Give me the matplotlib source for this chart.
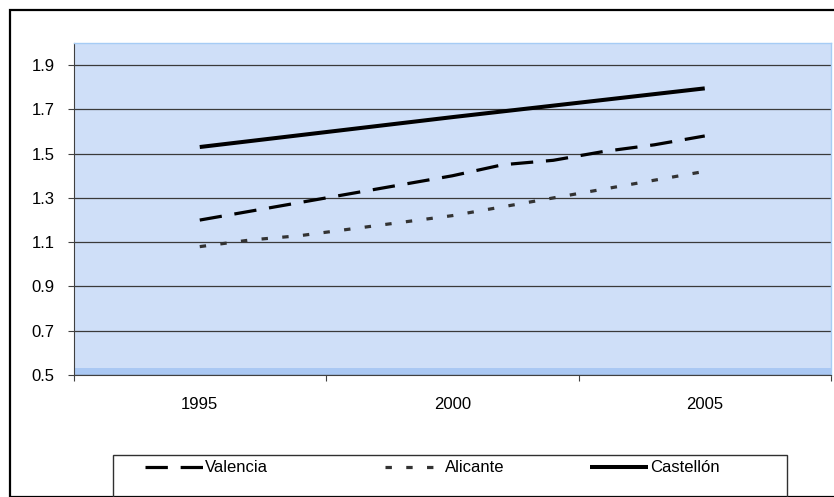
import matplotlib
matplotlib.use("Agg")
import matplotlib.pyplot as plt
from matplotlib.patches import Rectangle
from matplotlib.lines import Line2D

plt.rcParams['font.family'] = ['Liberation Sans', 'DejaVu Sans']
plt.rcParams['font.size'] = 12

years = [1995, 1996, 1997, 1998, 1999, 2000, 2001, 2002, 2003, 2004, 2005]
valencia = [1.20, 1.24, 1.28, 1.32, 1.36, 1.40, 1.45, 1.47, 1.51, 1.54, 1.58]
alicante = [1.08, 1.11, 1.13, 1.16, 1.19, 1.22, 1.26, 1.30, 1.34, 1.38, 1.42]
castellon_years = [1995, 2000, 2005]
castellon = [1.53, 1.665, 1.795]
labels = ['Valencia', 'Alicante', 'Castellón']
year_labels = [1995, 2000, 2005]
y_ticks = [0.5, 0.7, 0.9, 1.1, 1.3, 1.5, 1.7, 1.9]

W, H = 834, 497
fig = plt.figure(figsize=(W / 100, H / 100), dpi=100)

# outer chart border (runs off the right and bottom edges)
fig.patches.append(Rectangle((9.5 / W, 0), 1, 1 - 10 / H, transform=fig.transFigure,
                             fill=False, edgecolor='black', lw=1.6, clip_on=False))

ax = fig.add_axes([73.5 / W, (H - 375) / H, (831 - 73.5) / W, (375 - 43) / H])
ax.set_facecolor('#cfdff8')
ax.axhspan(0.5, 0.53, color='#aac8f3', lw=0, zorder=0)

style_v = dict(color='black', lw=2.3, dashes=(7, 4), solid_capstyle='butt', dash_capstyle='butt')
style_a = dict(color='#333333', lw=2.3, dashes=(2, 4.5), dash_capstyle='butt')
style_c = dict(color='black', lw=2.9, solid_capstyle='butt')

ax.plot(years, valencia, **style_v, zorder=3)
ax.plot(years, alicante, **style_a, zorder=3)
ax.plot(castellon_years, castellon, **style_c, zorder=3)

ax.set_xlim(1992.5, 2007.5)
ax.set_ylim(0.5, 2.0)
ax.set_yticks(y_ticks)
ax.set_yticklabels([f'{v:.1f}' for v in y_ticks])
ax.set_xticks([1992.5, 1997.5, 2002.5, 2007.5])
ax.set_xticklabels([])
ax.set_xticks(year_labels, minor=True)
ax.set_xticklabels([str(y) for y in year_labels], minor=True)
ax.tick_params(axis='x', which='major', direction='out', length=4.5, width=0.8, color='#404040')
ax.tick_params(axis='x', which='minor', length=0, pad=16)
ax.tick_params(axis='y', direction='out', length=4.5, width=0.8, color='#404040', pad=9)
ax.grid(axis='y', color='#3a3a3a', lw=0.9)
ax.set_axisbelow(True)

for side in ['top', 'right']:
    ax.spines[side].set_color('#a6ccf5')
    ax.spines[side].set_linewidth(1.0)
ax.spines['left'].set_color('#404040')
ax.spines['bottom'].set_color('#404040')

# legend box
fig.patches.append(Rectangle((113 / W, 0), (787 - 113) / W, (H - 455) / H,
                             transform=fig.transFigure, fill=False,
                             edgecolor='#303030', lw=1.0))
handles = [Line2D([], [], **style_v), Line2D([], [], **style_a), Line2D([], [], **style_c)]
xs = [145, 385, 590]
for h, lab, x in zip(handles, labels, xs):
    fig.legend([h], [lab], loc='center left', bbox_to_anchor=(x / W, 1 - 468 / H),
               frameon=False, handlelength=3.5, handletextpad=0.12, borderpad=0,
               borderaxespad=0, fontsize=12)

fig.savefig('out.png', dpi=100)
